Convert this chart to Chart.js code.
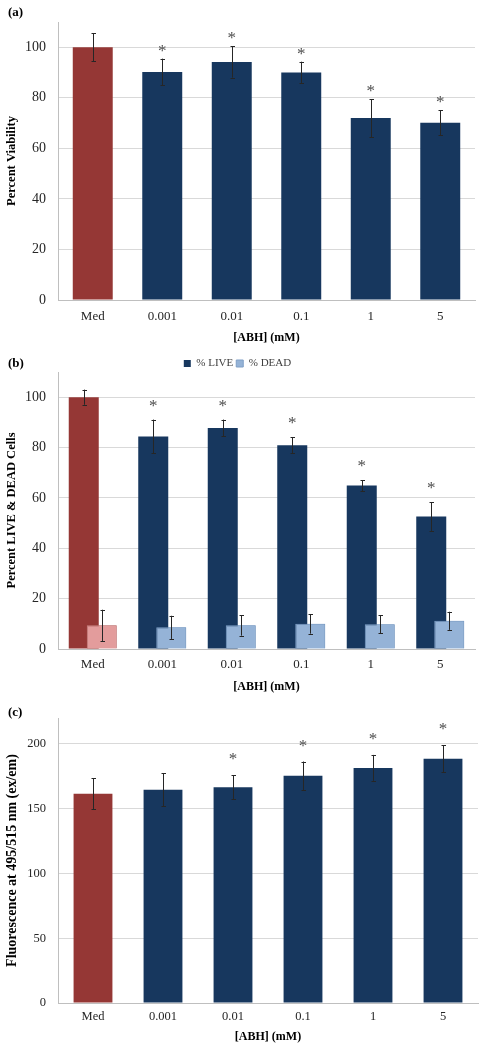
<!DOCTYPE html>
<html><head><meta charset="utf-8">
<script src="https://cdn.jsdelivr.net/npm/chart.js@4.4.1/dist/chart.umd.min.js"></script>
<style>
html,body{margin:0;padding:0;background:#fff;}
body{width:482px;height:1050px;position:relative;overflow:hidden;}
.wrap{position:absolute;left:0;width:482px;}
.lab{position:absolute;left:8px;font:bold 13px "Liberation Serif";color:#000;}
canvas{display:block;}
</style></head><body>
<div class="wrap" style="top:0;height:350px"><canvas id="ca" width="482" height="350"></canvas></div>
<div class="wrap" style="top:345px;height:350px"><canvas id="cb" width="482" height="350"></canvas></div>
<div class="wrap" style="top:695px;height:355px"><canvas id="cc" width="482" height="355"></canvas></div>
<div class="lab" style="top:4px">(a)</div>
<div class="lab" style="top:355px">(b)</div>
<div class="lab" style="top:704px">(c)</div>
<script>
// ---- data ----
const categories = ['Med', '0.001', '0.01', '0.1', '1', '5'];

const viability    = [100, 90.2, 94.2, 90.0, 72.0, 70.1];
const viabilityErr = [5.6, 5.3, 6.2, 4.3, 7.5, 4.9];
const viabilitySig = [false, true, true, true, true, true];

const liveCells    = [100, 84.4, 87.8, 80.9, 64.9, 52.6];
const liveErr      = [3.0, 6.7, 3.3, 3.2, 2.2, 5.7];
const liveSig      = [false, true, true, true, true, true];
const deadCells    = [9.4, 8.6, 9.4, 10.0, 9.8, 11.2];
const deadErr      = [6.2, 4.6, 4.1, 3.9, 3.6, 3.6];

const fluorescence = [161.5, 164.6, 166.6, 175.4, 181.5, 188.5];
const fluorErr     = [11.8, 12.8, 9.2, 11.0, 10.0, 10.5];
const fluorSig     = [false, false, true, true, true, true];

const yTicksA = [0, 20, 40, 60, 80, 100];
const yTicksB = [0, 20, 40, 60, 80, 100];
const yTicksC = [0, 50, 100, 150, 200];

// ---- styles ----
const NAVY = '#17375E', RED = '#953735', PINK = '#E39C9C', LBLUE = '#95B3D7';
const SERIF = '"Liberation Serif", "Times New Roman", serif';

const errPlugin = {
  id: 'errbars',
  afterDatasetsDraw(chart, args, opts) {
    const ctx = chart.ctx;
    const ys = chart.scales.y;
    // redraw the second dataset on top (Excel-style overlap)
    if (opts.redrawLast && chart.data.datasets.length > 1) {
      const m = chart.getDatasetMeta(chart.data.datasets.length - 1);
      m.data.forEach(el => el.draw(ctx));
    }
    chart.data.datasets.forEach((ds, di) => {
      const meta = chart.getDatasetMeta(di);
      meta.data.forEach((el, i) => {
        const v = ds.data[i], e = ds.errors ? ds.errors[i] : 0;
        const yt = ys.getPixelForValue(v + e), yb = ys.getPixelForValue(v - e);
        const x = Math.round(el.x) + 0.5;
        ctx.save();
        ctx.strokeStyle = '#262626';
        ctx.lineWidth = 1;
        ctx.beginPath();
        ctx.moveTo(x, yt); ctx.lineTo(x, yb);
        ctx.moveTo(x - 2, Math.round(yt) + 0.5); ctx.lineTo(x + 2.5, Math.round(yt) + 0.5);
        ctx.moveTo(x - 2, Math.round(yb) + 0.5); ctx.lineTo(x + 2.5, Math.round(yb) + 0.5);
        ctx.stroke();
        if (ds.sig && ds.sig[i]) {
          ctx.fillStyle = '#4D4D4D';
          ctx.font = '17px ' + SERIF;
          ctx.textAlign = 'center';
          ctx.textBaseline = 'alphabetic';
          ctx.fillText('*', el.x, yt - opts.sigOffset + 8);
        }
        ctx.restore();
      });
    });
  }
};

function yScale(ticksArr, max, title, titleSize, tickSize) {
  return {
    min: 0, max: max,
    afterBuildTicks: s => { s.ticks = ticksArr.map(v => ({ value: v })); },
    afterFit: s => { s.width = 58; },
    grid: { color: '#D9D9D9', lineWidth: 1, drawTicks: false },
    border: { display: true, color: '#BFBFBF', width: 1 },
    ticks: { padding: 12, color: '#262626', font: { family: SERIF, size: tickSize } },
    title: { display: true, text: title, color: '#000', padding: { top: 4, bottom: 0 },
             font: { family: SERIF, size: titleSize, weight: 'bold' } }
  };
}
function xScale(h, tickPad, titlePadBottom, tickSize) {
  return {
    type: 'category',
    afterFit: s => { s.height = h; },
    grid: { display: false, drawTicks: false },
    border: { display: true, color: '#BFBFBF', width: 1 },
    ticks: { padding: tickPad, color: '#262626', font: { family: SERIF, size: tickSize } },
    title: { display: true, text: '[ABH] (mM)', color: '#000', padding: { top: 0, bottom: titlePadBottom },
             font: { family: SERIF, size: 12, weight: 'bold' } }
  };
}
const colorsFor = (first, rest) => categories.map((c, i) => i === 0 ? first : rest);

// ---- (a) ----
new Chart(document.getElementById('ca'), {
  type: 'bar',
  data: { labels: categories, datasets: [{
    label: 'Percent Viability', data: viability, errors: viabilityErr, sig: viabilitySig,
    backgroundColor: colorsFor(RED, NAVY), borderWidth: 0,
    categoryPercentage: 1, barPercentage: 0.575
  }]},
  options: {
    responsive: false, animation: false,
    layout: { padding: { top: 22, right: 7, left: 0, bottom: 0 } },
    plugins: { legend: { display: false }, tooltip: { enabled: false }, errbars: { sigOffset: 11 } },
    scales: { x: xScale(50, 9, 5, 13), y: yScale(yTicksA, 110, 'Percent Viability', 12.5, 14) }
  },
  plugins: [errPlugin]
});

// ---- (b) ----
new Chart(document.getElementById('cb'), {
  type: 'bar',
  data: { labels: categories, datasets: [
    { label: '% LIVE', data: liveCells, errors: liveErr, sig: liveSig,
      backgroundColor: colorsFor(RED, NAVY), borderWidth: 0,
      categoryPercentage: 0.518, barPercentage: 1.667 },
    { label: '% DEAD', data: deadCells, errors: deadErr,
      backgroundColor: colorsFor(PINK, LBLUE), borderColor: colorsFor('#C98584', '#7F9FC6'), borderWidth: 1,
      categoryPercentage: 0.518, barPercentage: 1.667 }
  ]},
  options: {
    responsive: false, animation: false,
    layout: { padding: { top: 10, right: 7, left: 0, bottom: 0 } },
    plugins: {
      legend: { display: true, position: 'top', maxHeight: 17,
        labels: { boxWidth: 7, boxHeight: 7, padding: 3, color: '#404040',
          font: { family: SERIF, size: 11 },
          generateLabels: ch => ch.data.datasets.map((d, i) => ({
            text: d.label, fillStyle: i === 0 ? NAVY : LBLUE, strokeStyle: i === 0 ? NAVY : '#7F9FC6',
            lineWidth: i === 0 ? 0 : 1, hidden: false, datasetIndex: i, fontColor: '#404040' })) } },
      tooltip: { enabled: false },
      errbars: { sigOffset: 17, redrawLast: true }
    },
    scales: { x: xScale(46, 8, 1, 13), y: yScale(yTicksB, 110, 'Percent LIVE & DEAD Cells', 12.5, 14) }
  },
  plugins: [errPlugin]
});

// ---- (c) ----
new Chart(document.getElementById('cc'), {
  type: 'bar',
  data: { labels: categories, datasets: [{
    label: 'Fluorescence', data: fluorescence, errors: fluorErr, sig: fluorSig,
    backgroundColor: colorsFor(RED, NAVY), borderWidth: 0,
    categoryPercentage: 1, barPercentage: 0.555
  }]},
  options: {
    responsive: false, animation: false,
    layout: { padding: { top: 23, right: 4, left: 0, bottom: 0 } },
    plugins: { legend: { display: false }, tooltip: { enabled: false }, errbars: { sigOffset: 19 } },
    scales: { x: xScale(47, 6, 6, 12.5), y: yScale(yTicksC, 220, 'Fluorescence at 495/515 nm (ex/em)', 14, 12.5) }
  },
  plugins: [errPlugin]
});
</script>
</body></html>
